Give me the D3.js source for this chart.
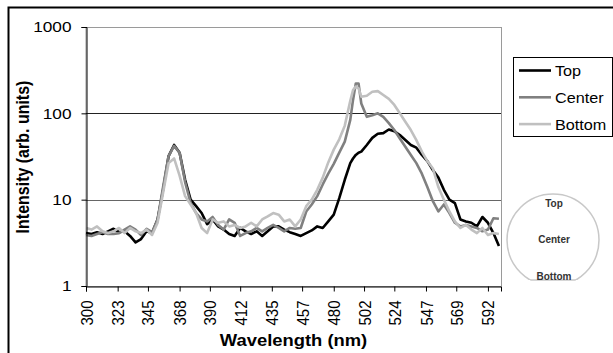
<!DOCTYPE html>
<html>
<head>
<meta charset="utf-8">
<script src="https://cdn.jsdelivr.net/npm/d3@7"></script>
<style>
  body { margin: 0; background: #fff; }
  svg text { font-family: "Liberation Sans", Arial, sans-serif; }
</style>
</head>
<body>
<svg id="chart" width="613" height="353"></svg>
<script>
// wavelength (nm)
const wavelengths = [300,304,308,312,316,320,324,328,332,336,340,344,348,352,356,360,364,368,372,376,380,384,388,392,396,400,404,408,412,416,420,424,428,432,436,440,444,448,452,456,460,464,468,472,476,480,484,488,492,494,496,498,500,504,508,512,516,520,524,528,532,536,540,544,548,552,556,560,564,568,572,576,580,584,588,592,596,600];

const topValues = [4.1,4.0,4.2,4.0,4.3,4.6,4.2,4.3,3.8,3.2,3.5,4.3,4.1,5.9,13,32,43,35,17,10,8.4,7.0,5.2,5.9,4.9,4.5,4.0,3.8,4.7,4.3,4.0,4.3,3.8,4.3,4.9,4.9,4.5,4.2,4.0,3.8,4.1,4.4,4.9,4.7,5.6,6.7,10.4,17,26.5,30,33,35,36,43,52,58,59,65,62,56,49,43,40,33,28,22,18,13,10,9.1,5.9,5.6,5.4,4.9,6.3,5.4,4.1,2.9];

const centerValues = [3.9,3.8,4.0,4.2,4.0,4.0,4.1,4.5,4.9,4.5,3.9,4.6,4.2,5.9,14,32,42,35,16,9.2,7.0,5.9,5.6,6.3,5.1,4.5,5.9,5.4,3.8,4.1,4.3,4.7,4.3,4.7,5.1,4.7,4.3,4.7,4.6,4.7,7.3,8.8,11,15,20,26,35,47,84,143,222,222,130,91,95,100,91,77,64,51,41,33,26.5,20,14,9.6,7.3,8.8,7.0,5.4,4.9,5.1,4.9,4.7,4.3,4.5,6.1,6.0];

const bottomValues = [4.7,4.5,4.9,4.3,4.1,4.3,4.7,4.1,4.7,4.3,4.1,4.5,3.9,5.4,12,26.5,30,19,11,8.8,7.0,4.7,4.1,5.9,5.4,5.6,4.9,5.1,4.7,4.9,5.4,4.9,5.9,6.4,7.0,6.7,5.6,5.9,4.9,5.9,8.4,10,13,18,27,38,50,72,140,186,204,195,156,160,178,181,163,147,125,100,80,64,49,36,28,23,14,10,7.3,5.6,4.7,5.1,4.5,4.1,4.7,3.9,4.1,4.0];

const seriesNames = ["Top", "Center", "Bottom"];
const seriesColors = ["#000000", "#808080", "#c0c0c0"];
const xTickLabels = ["300","323","345","368","390","412","435","457","480","502","524","547","569","592"];
const yTicks = [1, 10, 100, 1000];
const sampleLabels = ["Top", "Center", "Bottom"];

const svg = d3.select("#chart");
const plot = { left: 86, right: 501, top: 27, bottom: 286 };
const stretch = 1.15; // the picture is a bit wider than tall

// outer chart frame (runs off the right and bottom edges)
svg.append("rect")
  .attr("x", 8.5).attr("y", 7.5)
  .attr("width", 700).attr("height", 400)
  .attr("fill", "none").attr("stroke", "#000").attr("stroke-width", 2);

const x = d3.scaleLinear().domain([300, 601.5]).range([plot.left, plot.right]);
const y = d3.scaleLog().domain([1, 1000]).range([plot.bottom, plot.top]);

// plot area border
svg.append("rect")
  .attr("x", plot.left).attr("y", plot.top + 0.5)
  .attr("width", plot.right - plot.left + 0.5).attr("height", plot.bottom - plot.top)
  .attr("fill", "none").attr("stroke", "#9a9a9a").attr("stroke-width", 1);

// gridlines
svg.append("g")
  .selectAll("line")
  .data([10, 100])
  .enter()
  .append("line")
  .attr("x1", plot.left).attr("x2", plot.right)
  .attr("y1", d => Math.round(y(d)) + 0.5).attr("y2", d => Math.round(y(d)) + 0.5)
  .attr("stroke", d => d === 100 ? "#222" : "#666");

// series
const line = d3.line()
  .x((d, i) => x(wavelengths[i]))
  .y(d => y(d));

[topValues, centerValues, bottomValues].forEach((vals, i) => {
  svg.append("path")
    .datum(vals)
    .attr("d", line)
    .attr("fill", "none")
    .attr("stroke", seriesColors[i])
    .attr("stroke-width", 2.6)
    .attr("stroke-linejoin", "round");
});

// y axis
const yAxis = svg.append("g")
  .attr("transform", "translate(" + (plot.left + 0.5) + ",0)")
  .call(d3.axisLeft(y).tickValues(yTicks).tickFormat(d3.format("d")).tickSize(5).tickPadding(8));
yAxis.select(".domain").attr("stroke", "#000");
yAxis.selectAll("text")
  .style("font-size", "15px")
  .attr("fill", "#000")
  .attr("transform", "scale(" + stretch + ",1)");

// x axis
const xAxis = svg.append("g")
  .attr("transform", "translate(0," + (plot.bottom + 0.5) + ")")
  .call(d3.axisBottom(x).tickValues(xTickLabels.map(Number)).tickFormat((d, i) => xTickLabels[i]).tickSize(5));
xAxis.select(".domain").attr("stroke", "#000");
xAxis.selectAll("text")
  .attr("transform", "scale(" + stretch + ",1) rotate(-90)")
  .attr("x", -14).attr("y", 0).attr("dy", "0.35em")
  .style("text-anchor", "end")
  .style("font-size", "15px")
  .attr("fill", "#000");

// axis titles
svg.append("text")
  .attr("transform", "translate(" + ((plot.left + plot.right) / 2) + ",346) scale(" + stretch + ",1)")
  .attr("text-anchor", "middle")
  .style("font-size", "16px").style("font-weight", "bold")
  .text("Wavelength (nm)");

svg.append("text")
  .attr("transform", "translate(29,157) scale(" + stretch + ",1) rotate(-90)")
  .attr("text-anchor", "middle")
  .style("font-size", "16px").style("font-weight", "bold")
  .text("Intensity (arb. units)");

// legend
const legend = svg.append("g");
legend.append("rect")
  .attr("x", 513.5).attr("y", 57.5).attr("width", 99).attr("height", 79)
  .attr("fill", "#fff").attr("stroke", "#000");
seriesNames.forEach((name, i) => {
  const ly = 70.5 + i * 26.8;
  legend.append("line")
    .attr("x1", 519).attr("x2", 551).attr("y1", ly).attr("y2", ly)
    .attr("stroke", seriesColors[i]).attr("stroke-width", 2.6);
  legend.append("text")
    .attr("transform", "translate(555," + (ly + 5.5) + ") scale(1.08,1)")
    .style("font-size", "15px")
    .text(name);
});

// sample position sketch
const cx = 553, cy = 240, r = 46;
svg.append("clipPath").attr("id", "cut")
  .append("rect").attr("x", cx - r - 5).attr("y", cy - r - 5).attr("width", 2 * r + 10).attr("height", 280 - (cy - r - 5));
svg.append("circle")
  .attr("cx", cx).attr("cy", cy).attr("r", r)
  .attr("fill", "none").attr("stroke", "#c8c8c8").attr("stroke-width", 1.5)
  .attr("clip-path", "url(#cut)");
const half = Math.sqrt(r * r - (280 - cy) * (280 - cy));
svg.append("line")
  .attr("x1", cx - half).attr("x2", cx + half).attr("y1", 280).attr("y2", 280)
  .attr("stroke", "#c8c8c8").attr("stroke-width", 1.5);
svg.append("g")
  .selectAll("text")
  .data(sampleLabels)
  .enter()
  .append("text")
  .attr("x", cx + 1)
  .attr("y", (d, i) => [207, 243, 280][i])
  .attr("text-anchor", "middle")
  .style("font-size", "10px").style("font-weight", "bold")
  .attr("fill", "#333")
  .text(d => d);
</script>
</body>
</html>
